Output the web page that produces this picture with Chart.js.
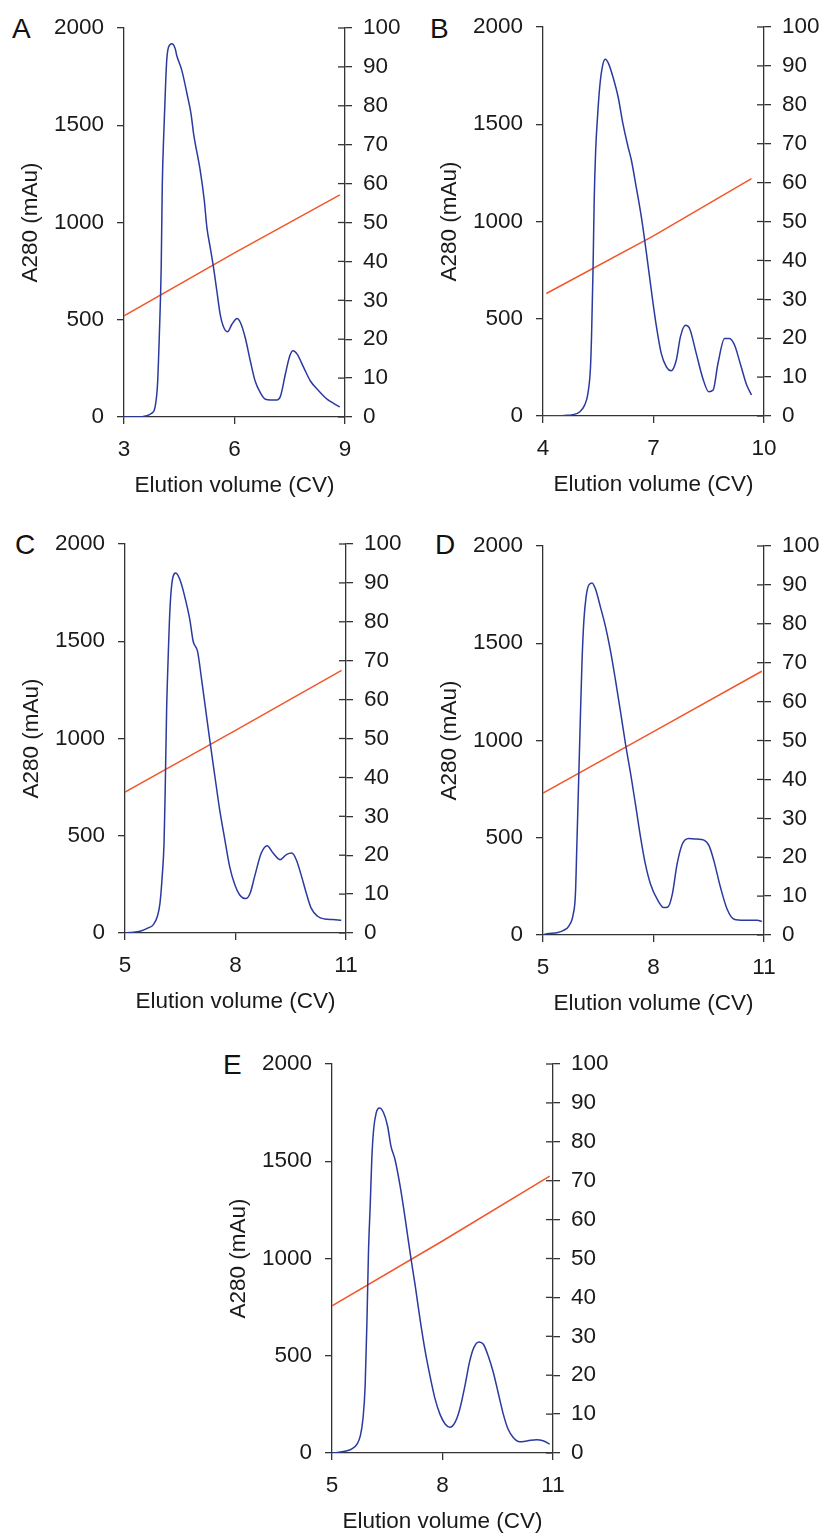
<!doctype html>
<html>
<head>
<meta charset="utf-8">
<title>Elution profiles A-E</title>
<script src="https://cdn.jsdelivr.net/npm/chart.js@4.4.1/dist/chart.umd.min.js"></script>
<style>
  html, body { margin: 0; padding: 0; background: #fff; overflow: hidden; }
  body { width: 823px; height: 1538px; position: relative; }
  canvas { position: absolute; }
  .lbl { position: absolute; font: 28px "Liberation Sans", Arial, sans-serif; line-height: 28px; color: #111; }
</style>
</head>
<body>
<div class="lbl" style="left:12px;top:15px">A</div>
<div class="lbl" style="left:430px;top:15px">B</div>
<div class="lbl" style="left:15px;top:531px">C</div>
<div class="lbl" style="left:435px;top:531px">D</div>
<div class="lbl" style="left:223px;top:1051px">E</div>
<canvas id="cA" width="402" height="510"></canvas>
<canvas id="cB" width="402" height="510"></canvas>
<canvas id="cC" width="402" height="510"></canvas>
<canvas id="cD" width="402" height="510"></canvas>
<canvas id="cE" width="402" height="510"></canvas>
<script>
// ---- data ----
// panel A
const volA  = [3, 3.34, 3.62, 3.75, 3.84, 3.91, 3.96, 4.01, 4.04, 4.08, 4.13, 4.16, 4.21, 4.30, 4.39, 4.43, 4.57, 4.71, 4.82, 4.89, 5.07, 5.18, 5.25, 5.34, 5.43, 5.52, 5.61, 5.69, 5.81, 5.93, 6.07, 6.16, 6.29, 6.43, 6.56, 6.70, 6.84, 6.97, 7.16, 7.25, 7.38, 7.50, 7.59, 7.70, 7.88, 8.06, 8.29, 8.52, 8.70, 8.86];
const a280A = [0, 0, 7, 19, 48, 168, 426, 769, 1198, 1456, 1714, 1834, 1902, 1919, 1894, 1860, 1782, 1662, 1559, 1456, 1267, 1113, 975, 872, 769, 649, 529, 469, 438, 477, 507, 486, 409, 288, 185, 125, 91, 88, 88, 108, 220, 314, 340, 323, 254, 185, 134, 91, 69, 52];
const gradVolA = [3, 6, 8.86];
const gradA    = [26, 42.2, 57.1];

// panel B
const volB  = [4, 4.59, 4.81, 5.0, 5.13, 5.22, 5.29, 5.32, 5.36, 5.39, 5.43, 5.48, 5.54, 5.61, 5.69, 5.78, 5.90, 6.04, 6.17, 6.31, 6.40, 6.53, 6.67, 6.81, 6.94, 7.08, 7.21, 7.35, 7.48, 7.62, 7.73, 7.87, 7.98, 8.16, 8.34, 8.50, 8.62, 8.75, 8.93, 9.06, 9.20, 9.38, 9.53, 9.66];
const a280B = [0, 3, 7, 22, 56, 116, 253, 425, 767, 1109, 1366, 1537, 1692, 1794, 1834, 1812, 1743, 1640, 1503, 1383, 1315, 1178, 1024, 835, 647, 459, 322, 253, 233, 288, 407, 467, 450, 322, 193, 125, 134, 270, 399, 399, 365, 253, 159, 108];
const gradVolB = [4.09, 7, 9.66];
const gradB    = [31.5, 46.3, 61.0];

// panel C
const volC  = [5, 5.14, 5.41, 5.63, 5.77, 5.88, 5.95, 6.01, 6.06, 6.09, 6.13, 6.17, 6.22, 6.28, 6.38, 6.49, 6.62, 6.76, 6.85, 6.97, 7.08, 7.19, 7.30, 7.44, 7.57, 7.71, 7.84, 7.98, 8.11, 8.28, 8.40, 8.52, 8.70, 8.86, 9.02, 9.21, 9.38, 9.53, 9.65, 9.78, 9.92, 10.05, 10.23, 10.42, 10.64, 10.87];
const a280C = [0, 3, 9, 26, 43, 86, 154, 291, 463, 720, 1148, 1405, 1663, 1808, 1851, 1817, 1731, 1611, 1500, 1448, 1303, 1148, 994, 806, 634, 480, 343, 249, 197, 177, 206, 291, 411, 449, 411, 377, 403, 411, 377, 300, 206, 129, 86, 72, 69, 65];
const gradVolC = [5, 8, 10.88];
const gradC    = [36.2, 52.1, 67.5];

// panel D
const volD  = [5, 5.11, 5.38, 5.56, 5.70, 5.82, 5.88, 5.92, 5.97, 6.02, 6.06, 6.11, 6.17, 6.24, 6.33, 6.42, 6.56, 6.70, 6.83, 6.97, 7.10, 7.24, 7.38, 7.51, 7.65, 7.78, 7.92, 8.10, 8.28, 8.39, 8.51, 8.64, 8.78, 8.96, 9.19, 9.37, 9.51, 9.64, 9.82, 10.00, 10.19, 10.46, 10.82, 10.94];
const a280D = [0, 7, 12, 24, 46, 106, 209, 467, 810, 1154, 1411, 1617, 1738, 1798, 1810, 1781, 1686, 1583, 1463, 1308, 1154, 982, 828, 673, 501, 364, 261, 184, 141, 144, 209, 364, 467, 496, 493, 488, 458, 381, 244, 132, 81, 76, 76, 69];
const gradVolD = [5, 8, 10.94];
const gradD    = [36.5, 52.3, 67.8];

// panel E
const volE  = [5, 5.14, 5.41, 5.54, 5.68, 5.77, 5.84, 5.90, 5.95, 5.99, 6.04, 6.08, 6.13, 6.20, 6.29, 6.40, 6.51, 6.60, 6.71, 6.85, 6.99, 7.12, 7.26, 7.39, 7.52, 7.66, 7.80, 7.93, 8.07, 8.20, 8.34, 8.47, 8.61, 8.73, 8.85, 8.99, 9.11, 9.24, 9.38, 9.51, 9.65, 9.78, 9.92, 10.10, 10.32, 10.55, 10.73, 10.91];
const a280E = [0, 3, 12, 21, 46, 89, 175, 346, 688, 1030, 1287, 1509, 1663, 1749, 1774, 1749, 1680, 1578, 1509, 1372, 1201, 1030, 859, 688, 534, 397, 277, 200, 149, 132, 157, 226, 346, 465, 542, 571, 559, 500, 414, 311, 200, 123, 80, 58, 63, 68, 63, 46];
const gradVolE = [5, 8, 10.91];
const gradE    = [37.8, 54.5, 71.2];

// axis ranges / tick labels
const xTicksA = [3, 6, 9];
const xTicksB = [4, 7, 10];
const xTicksC = [5, 8, 11];
const xTicksD = [5, 8, 11];
const xTicksE = [5, 8, 11];
const a280Ticks = [0, 500, 1000, 1500, 2000];
const gradTicks = [0, 10, 20, 30, 40, 50, 60, 70, 80, 90, 100];

const xTitle = 'Elution volume (CV)';
const yTitle = 'A280 (mAu)';

// ---- styling ----
const BLUE = '#2b3a9e';
const RED = '#f2562a';
const AXIS = '#333333';
const TXT = '#1a1a1a';
const FONT = '"Liberation Sans", Arial, sans-serif';
const PLOT_W = 221, PLOT_H = 389, LEFT_W = 124, TOP_PAD = 28;

const pts = (xs, ys) => xs.map((x, i) => ({x: x, y: ys[i]}));
const plain = v => String(v);

// right axis ticks cross the axis line
const crossTicks = {
  id: 'crossTicks',
  afterDraw(chart) {
    const s = chart.scales.y2, ctx = chart.ctx;
    ctx.save();
    ctx.strokeStyle = AXIS;
    ctx.lineWidth = 1.3;
    s.ticks.forEach(t => {
      const y = s.getPixelForValue(t.value);
      ctx.beginPath();
      ctx.moveTo(s.left - 7, y);
      ctx.lineTo(s.left, y);
      ctx.stroke();
    });
    ctx.restore();
  }
};

function panel(id, L, T, vol, a280, gVol, grad, xTicks) {
  const cv = document.getElementById(id);
  cv.style.left = (L - LEFT_W) + 'px';
  cv.style.top = (T - TOP_PAD) + 'px';
  const W = cv.width, H = cv.height;
  const tickFont = {family: FONT, size: 22.5};
  const grid = {drawOnChartArea: false, drawTicks: true, tickLength: 7, color: AXIS, lineWidth: 1.3};
  const border = {display: true, color: AXIS, width: 1.3};
  new Chart(cv, {
    type: 'scatter',
    data: {
      datasets: [
        {data: pts(vol, a280), yAxisID: 'y', showLine: true, borderColor: BLUE, borderWidth: 1.5,
         pointRadius: 0, cubicInterpolationMode: 'monotone'},
        {data: pts(gVol, grad), yAxisID: 'y2', showLine: true, borderColor: RED, borderWidth: 1.5,
         pointRadius: 0}
      ]
    },
    options: {
      responsive: false,
      animation: false,
      events: [],
      layout: {padding: {left: 0, top: TOP_PAD, right: 0, bottom: 0}},
      plugins: {legend: {display: false}, tooltip: {enabled: false}},
      scales: {
        x: {
          type: 'linear', min: xTicks[0], max: xTicks[xTicks.length - 1],
          afterBuildTicks: s => { s.ticks = xTicks.map(v => ({value: v})); },
          afterFit: s => { s.height = H - TOP_PAD - PLOT_H; },
          grid: grid, border: border,
          ticks: {font: tickFont, color: TXT, padding: 12, maxRotation: 0, callback: plain},
          title: {display: true, text: xTitle, font: tickFont, color: TXT, padding: {top: 0, bottom: 11}}
        },
        y: {
          type: 'linear', position: 'left', min: 0, max: 2000,
          afterBuildTicks: s => { s.ticks = a280Ticks.map(v => ({value: v})); },
          afterFit: s => { s.width = LEFT_W; },
          grid: grid, border: border,
          ticks: {font: tickFont, color: TXT, padding: 13, callback: plain},
          title: {display: true, text: yTitle, font: tickFont, color: TXT, padding: {top: 17, bottom: 0}}
        },
        y2: {
          type: 'linear', position: 'right', min: 0, max: 100,
          afterBuildTicks: s => { s.ticks = gradTicks.map(v => ({value: v})); },
          afterFit: s => { s.width = W - LEFT_W - PLOT_W; },
          grid: grid, border: border,
          ticks: {font: tickFont, color: TXT, padding: 11, callback: plain}
        }
      }
    },
    plugins: [crossTicks]
  });
}

panel('cA', 124, 28, volA, a280A, gradVolA, gradA, xTicksA);
panel('cB', 543, 27, volB, a280B, gradVolB, gradB, xTicksB);
panel('cC', 125, 544, volC, a280C, gradVolC, gradC, xTicksC);
panel('cD', 543, 546, volD, a280D, gradVolD, gradD, xTicksD);
panel('cE', 332, 1064, volE, a280E, gradVolE, gradE, xTicksE);
</script>
</body>
</html>
